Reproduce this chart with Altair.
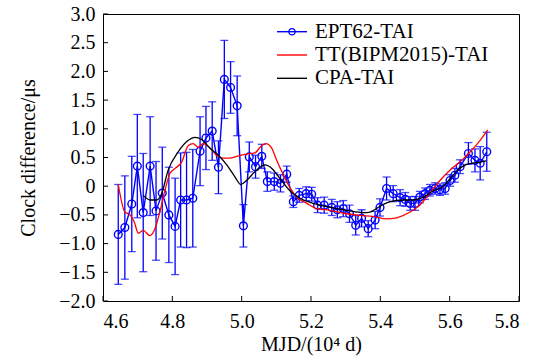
import altair as alt
import pandas as pd

# ---------------- data (MJD in units of 10^4 d, values in microseconds) -------------
ept_mjd = [4.644, 4.663, 4.683, 4.699, 4.716, 4.736, 4.753, 4.771, 4.790, 4.808, 4.824,
           4.841, 4.859, 4.880, 4.897, 4.915, 4.933, 4.950, 4.968, 4.987, 5.005, 5.022,
           5.040, 5.058, 5.074, 5.094, 5.112, 5.130, 5.149, 5.166, 5.186, 5.202, 5.219,
           5.238, 5.260, 5.276, 5.293, 5.311, 5.329, 5.346, 5.365, 5.385, 5.399, 5.418,
           5.437, 5.457, 5.472, 5.486, 5.500, 5.514, 5.529, 5.543, 5.558, 5.572, 5.587,
           5.601, 5.615, 5.630, 5.654, 5.673, 5.688, 5.707]
ept_val = [-0.84, -0.72, -0.31, 0.35, -0.46, 0.35, -0.43, -0.12, -0.50, -0.70, -0.24,
           -0.24, -0.21, 0.61, 0.84, 0.96, 0.33, 1.86, 1.72, 1.40, -0.69, 0.51,
           0.34, 0.52, 0.08, 0.08, 0.05, 0.21, -0.27, -0.16, -0.13, -0.14, -0.33,
           -0.33, -0.37, -0.41, -0.39, -0.48, -0.68, -0.56, -0.74, -0.59, -0.37, -0.04,
           -0.13, -0.20, -0.23, -0.30, -0.30, -0.19, -0.13, -0.07, -0.04, -0.06, -0.04,
           0.10, 0.19, 0.34, 0.57, 0.45, 0.40, 0.60]
ept_err = [0.87, 0.90, 0.83, 0.90, 1.03, 0.86, 0.86, 0.80, 0.83, 0.84, 0.82,
           0.83, 0.85, 0.60, 0.55, 0.51, 0.46, 0.68, 0.45, 0.52, 0.37, 0.26,
           0.20, 0.21, 0.17, 0.15, 0.15, 0.14, 0.10, 0.12, 0.12, 0.12, 0.13,
           0.14, 0.14, 0.14, 0.14, 0.15, 0.17, 0.15, 0.14, 0.15, 0.15, 0.20,
           0.14, 0.14, 0.12, 0.12, 0.12, 0.10, 0.10, 0.10, 0.10, 0.10, 0.10,
           0.10, 0.12, 0.12, 0.19, 0.20, 0.29, 0.34]

tt_mjd = [4.644, 4.663, 4.678, 4.690, 4.702, 4.716, 4.735, 4.750, 4.764, 4.784, 4.793,
          4.808, 4.827, 4.846, 4.860, 4.875, 4.889, 4.909, 4.928, 4.947, 4.966, 4.986,
          5.014, 5.038, 5.058, 5.070, 5.087, 5.101, 5.120, 5.135, 5.159, 5.188, 5.216,
          5.255, 5.303, 5.341, 5.380, 5.418, 5.447, 5.486, 5.510, 5.534, 5.572, 5.606,
          5.635, 5.664, 5.688, 5.710]
tt_val = [0.03, -0.45, -0.50, -0.62, -0.82, -0.77, -0.86, -0.74, -0.45, 0.05, 0.22,
          0.31, 0.42, 0.71, 0.74, 0.68, 0.74, 0.66, 0.54, 0.49, 0.49, 0.52,
          0.56, 0.58, 0.71, 0.74, 0.66, 0.45, 0.20, 0.02, -0.19, -0.30, -0.39,
          -0.42, -0.48, -0.51, -0.53, -0.57, -0.55, -0.45, -0.35, -0.19, 0.10, 0.31,
          0.45, 0.63, 0.80, 0.98]

cpa_mjd = [4.716, 4.736, 4.755, 4.769, 4.788, 4.817, 4.846, 4.865, 4.885, 4.909, 4.933,
           4.957, 4.981, 4.997, 5.014, 5.038, 5.067, 5.087, 5.111, 5.139, 5.168, 5.207,
           5.255, 5.303, 5.351, 5.370, 5.399, 5.428, 5.466, 5.495, 5.524, 5.553, 5.582,
           5.601, 5.625, 5.649, 5.678, 5.705]
cpa_val = [-0.16, -0.24, -0.24, -0.13, 0.28, 0.60, 0.80, 0.85, 0.81, 0.66, 0.54,
           0.37, 0.16, 0.03, 0.10, 0.25, 0.37, 0.31, 0.13, -0.08, -0.21, -0.30,
           -0.37, -0.42, -0.46, -0.45, -0.35, -0.27, -0.24, -0.24, -0.19, -0.08, 0.00,
           0.13, 0.29, 0.38, 0.41, 0.44]

x_ticks = [4.6, 4.8, 5.0, 5.2, 5.4, 5.6, 5.8]
y_ticks = [-2.0, -1.5, -1.0, -0.5, 0.0, 0.5, 1.0, 1.5, 2.0, 2.5, 3.0]
legend_labels = ["EPT62-TAI", "TT(BIPM2015)-TAI", "CPA-TAI"]
legend_colors = ["#0000ff", "#ff0000", "#000000"]

# ---------------- tables -------------
ept = pd.DataFrame({"mjd": ept_mjd, "val": ept_val, "err": ept_err})
ept["lo"] = ept["val"] - ept["err"]
ept["hi"] = ept["val"] + ept["err"]
tt = pd.DataFrame({"mjd": tt_mjd, "val": tt_val})
cpa = pd.DataFrame({"mjd": cpa_mjd, "val": cpa_val})
xt = pd.DataFrame({"v": x_ticks})
yt = pd.DataFrame({"v": y_ticks})
leg = pd.DataFrame({"label": legend_labels, "color": legend_colors, "row": [0, 1, 2]})

FONT = "Liberation Serif"
W, H = 416, 287

xscale = alt.Scale(domain=[4.6, 5.8], nice=False, zero=False)
yscale = alt.Scale(domain=[-2.0, 3.0], nice=False, zero=False)

xaxis = alt.Axis(values=x_ticks, format=".1f", grid=False, ticks=False, tickSize=0,
                 domain=False, labelFont=FONT, labelFontSize=20, labelColor="black",
                 labelPadding=10, title="MJD/(10⁴ d)", titleFont=FONT, titleFontSize=20,
                 titleFontWeight="normal", titleColor="black", titleBaseline="alphabetic",
                 titleY=49, titleX=W / 2, titleAlign="center")
yaxis = alt.Axis(values=y_ticks, grid=False, ticks=False, tickSize=0, domain=False,
                 labelExpr="datum.value == 0 ? '0' : replace(format(datum.value, '.1f'), '-', '−')",
                 labelFont=FONT, labelFontSize=20, labelColor="black", labelPadding=8,
                 title="Clock difference/μs", titleFont=FONT, titleFontSize=20,
                 titleFontWeight="normal", titleColor="black", titleAngle=270,
                 titleX=-75, titleY=H / 2, titleAlign="center", titleBaseline="middle")


def X(field):
    return alt.X(field, type="quantitative", scale=xscale, axis=xaxis)


def Y(field):
    return alt.Y(field, type="quantitative", scale=yscale, axis=yaxis)


BLUE = "#0000ff"

err_rule = alt.Chart(ept).mark_rule(color=BLUE, strokeWidth=1.3).encode(
    x=X("mjd"), y=Y("lo"), y2="hi")
cap_lo = alt.Chart(ept).mark_tick(color=BLUE, orient="horizontal", size=8, thickness=1.3).encode(
    x=X("mjd"), y=Y("lo"))
cap_hi = alt.Chart(ept).mark_tick(color=BLUE, orient="horizontal", size=8, thickness=1.3).encode(
    x=X("mjd"), y=Y("hi"))
ept_line = alt.Chart(ept).mark_line(color=BLUE, strokeWidth=1.4).encode(
    x=X("mjd"), y=Y("val"))
ept_pts = alt.Chart(ept).mark_point(color=BLUE, filled=False, size=60, strokeWidth=1.4,
                                    opacity=1).encode(x=X("mjd"), y=Y("val"))
tt_line = alt.Chart(tt).mark_line(color="#ff0000", strokeWidth=1.3, interpolate="monotone").encode(
    x=X("mjd"), y=Y("val"))
cpa_line = alt.Chart(cpa).mark_line(color="#000000", strokeWidth=1.3, interpolate="monotone").encode(
    x=X("mjd"), y=Y("val"))

# inward ticks
xtick_marks = alt.Chart(xt).mark_rule(color="black", strokeWidth=1).encode(
    x=X("v"), y=alt.value(H), y2=alt.value(H - 5))
ytick_marks = alt.Chart(yt).mark_rule(color="black", strokeWidth=1).encode(
    y=Y("v"), x=alt.value(0), x2=alt.value(5))

# legend
leg_base = alt.Chart(leg).transform_calculate(ypix="17.7 + datum.row * 23.3")
leg_lines = leg_base.mark_rule(strokeWidth=1.4).encode(
    x=alt.value(174), x2=alt.value(204),
    y=alt.Y("ypix:Q", scale=None, axis=None),
    color=alt.Color("color:N", scale=None, legend=None))
leg_pt = leg_base.transform_filter("datum.row == 0").mark_point(
    color=BLUE, filled=False, size=40, strokeWidth=1.3, opacity=1).encode(
    x=alt.value(189), y=alt.Y("ypix:Q", scale=None, axis=None))
leg_text = leg_base.mark_text(align="left", baseline="middle", font=FONT, fontSize=21,
                              color="black").encode(
    x=alt.value(212), y=alt.Y("ypix:Q", scale=None, axis=None), text="label:N")

chart = alt.layer(
    err_rule, cap_lo, cap_hi, ept_line, ept_pts, tt_line, cpa_line,
    xtick_marks, ytick_marks, leg_lines, leg_pt, leg_text
).properties(
    width=W, height=H,
    padding={"left": 103, "top": 14, "right": 22, "bottom": 55},
    autosize=alt.AutoSizeParams(type="none"),
    background="white",
).configure_view(stroke="black", strokeWidth=1)

chart.save("out.html", embed_options={"renderer": "svg", "actions": False})
